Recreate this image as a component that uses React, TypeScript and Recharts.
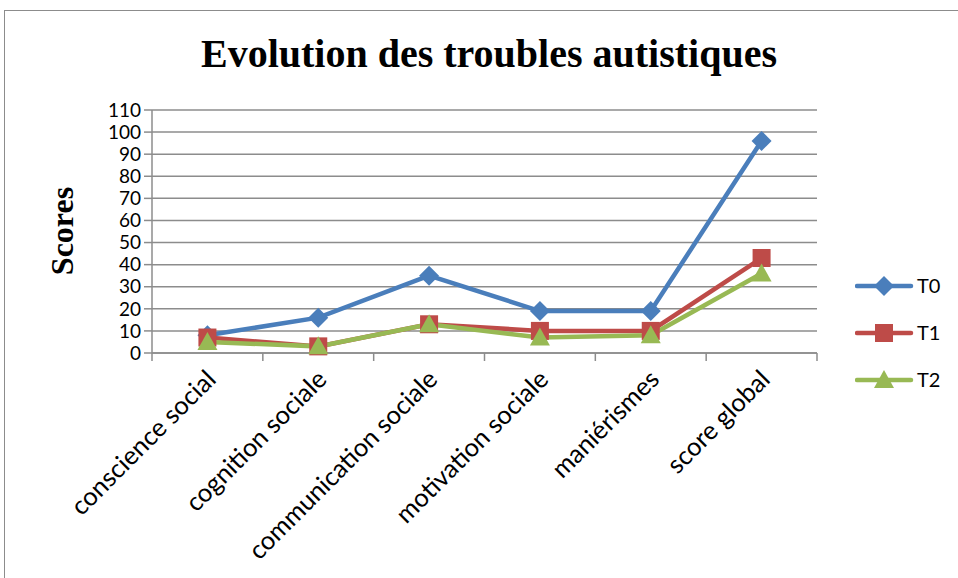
import { LineChart, Line, XAxis, YAxis, CartesianGrid } from "recharts"

const categories = [
  "conscience social",
  "cognition sociale",
  "communication sociale",
  "motivation sociale",
  "maniérismes",
  "score global",
]
const t0 = [8, 16, 35, 19, 19, 96]
const t1 = [7, 3, 13, 10, 10, 43]
const t2 = [5, 3, 13, 7, 8, 36]
const yTicks = [0, 10, 20, 30, 40, 50, 60, 70, 80, 90, 100, 110]
const xTicks = [0, 0.5, 1, 1.5, 2, 2.5, 3, 3.5, 4, 4.5, 5, 5.5, 6]

const BLUE = "#4a7ebb"
const RED = "#be4b48"
const GREEN = "#98b954"
const GRID = "#8c8c8c"
const FONT = "Lato, 'Open Sans', sans-serif"
const SERIF = "'Liberation Serif', 'Times New Roman', serif"

const data = categories.map((name, i) => ({
  name,
  x: i + 0.5,
  T0: t0[i],
  T1: t1[i],
  T2: t2[i],
}))

const Diamond = ({ cx, cy }: any) => (
  <path
    d={`M${cx},${cy - 10} L${cx + 10},${cy} L${cx},${cy + 10} L${cx - 10},${cy} Z`}
    fill={BLUE}
  />
)
const Square = ({ cx, cy }: any) => (
  <rect x={cx - 9} y={cy - 9} width={18} height={18} fill={RED} />
)
const Triangle = ({ cx, cy }: any) => (
  <path
    d={`M${cx},${cy - 10} L${cx + 10},${cy + 8} L${cx - 10},${cy + 8} Z`}
    fill={GREEN}
  />
)

// integer values draw the band separators, half values carry the category names
const XTick = ({ x, y, payload }: any) => {
  const v = payload.value
  if (Number.isInteger(v)) {
    return <line x1={x} x2={x} y1={y} y2={y + 8} stroke={GRID} strokeWidth={1.5} />
  }
  const label = categories[Math.floor(v)]
  const ax = x + 10
  const ay = y + 28
  return (
    <text
      x={ax}
      y={ay}
      transform={`rotate(-45 ${ax} ${ay})`}
      textAnchor="end"
      fontSize={25.5}
      fontFamily={FONT}
      fill="#000"
    >
      {label}
    </text>
  )
}

const legendItems = [
  { name: "T0", color: BLUE, Marker: Diamond },
  { name: "T1", color: RED, Marker: Square },
  { name: "T2", color: GREEN, Marker: Triangle },
]

const ChartLegend = () => (
  <svg width={100} height={130} style={{ position: "absolute", left: 855, top: 272 }}>
    {legendItems.map((it, i) => {
      const cy = 14 + i * 47
      return (
        <g key={it.name}>
          <line x1={2} x2={56} y1={cy} y2={cy} stroke={it.color} strokeWidth={4.5} strokeLinecap="round" />
          <it.Marker cx={29} cy={cy} />
          <text x={62} y={cy + 7} fontSize={20} fontFamily={FONT} fill="#000">
            {it.name}
          </text>
        </g>
      )
    })}
  </svg>
)

export default function App() {
  return (
    <div style={{ position: "absolute", left: 0, top: 0, width: 958, height: 578, background: "#fff", overflow: "hidden" }}>
      <div
        style={{
          position: "absolute",
          left: 4,
          top: 10,
          width: 1000,
          height: 700,
          border: `1.5px solid ${GRID}`,
        }}
      />
      <div
        style={{
          position: "absolute",
          left: 0,
          top: 30,
          width: 978,
          textAlign: "center",
          fontFamily: SERIF,
          fontWeight: "bold",
          fontSize: 40,
        }}
      >
        Evolution des troubles autistiques
      </div>
      <div
        style={{
          position: "absolute",
          left: 62,
          top: 231,
          transform: "translate(-50%, -50%) rotate(-90deg)",
          fontFamily: SERIF,
          fontWeight: "bold",
          fontSize: 32,
          whiteSpace: "nowrap",
        }}
      >
        Scores
      </div>
      <div style={{ position: "absolute", left: 0, top: 0 }}>
        <LineChart
          width={958}
          height={578}
          data={data}
          margin={{ top: 110, right: 141, left: 92, bottom: 75 }}
        >
          <CartesianGrid vertical={false} stroke={GRID} strokeWidth={1.5} />
          <XAxis
            dataKey="x"
            type="number"
            domain={[0, 6]}
            ticks={xTicks}
            interval={0}
            height={150}
            tickSize={0}
            tickMargin={0}
            tickLine={false}
            axisLine={{ stroke: GRID, strokeWidth: 1.5 }}
            tick={<XTick />}
          />
          <YAxis
            domain={[0, 110]}
            ticks={yTicks}
            interval={0}
            width={60}
            tickSize={8}
            tickMargin={3}
            axisLine={{ stroke: GRID, strokeWidth: 1.5 }}
            tickLine={{ stroke: GRID, strokeWidth: 1.5 }}
            tick={{ fontSize: 19, fontFamily: FONT, fill: "#000" }}
          />
          <Line dataKey="T0" stroke={BLUE} strokeWidth={4.5} dot={<Diamond />} activeDot={false} isAnimationActive={false} />
          <Line dataKey="T1" stroke={RED} strokeWidth={4.5} dot={<Square />} activeDot={false} isAnimationActive={false} />
          <Line dataKey="T2" stroke={GREEN} strokeWidth={4.5} dot={<Triangle />} activeDot={false} isAnimationActive={false} />
        </LineChart>
      </div>
      <ChartLegend />
    </div>
  )
}
